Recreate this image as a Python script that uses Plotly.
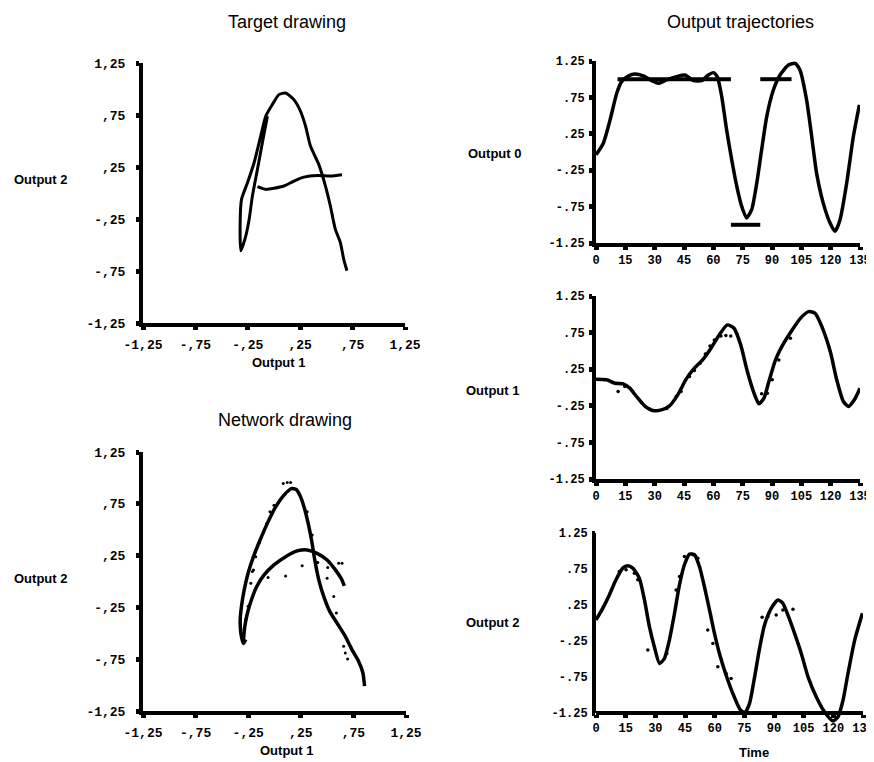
import plotly.graph_objects as go

W, H = 874, 762
OFF = 8  # default page body margin that shifts the plot inside the browser window

# ---------------- tick definitions ----------------
xy_tickvals = [-1.25, -0.75, -0.25, 0.25, 0.75, 1.25]
xy_ticktext_left = ["-1,25", "-,75", "-,25", ",25", ",75", "1,25"]
xy_ticktext_right = ["-1.25", "-.75", "-.25", ".25", ".75", "1.25"]
time_tickvals = [0, 15, 30, 45, 60, 75, 90, 105, 120, 135]
time_ticktext = ["0", "15", "30", "45", "60", "75", "90", "105", "120", "135"]

# ---------------- Target drawing (letter A) ----------------
target_main_x = [-0.063, -0.111, -0.158, -0.206, -0.237, -0.269, -0.316, -0.323, -0.310, -0.253,
                 -0.190, -0.127, -0.079, -0.016, 0.047, 0.111, 0.190, 0.253, 0.301, 0.348,
                 0.427, 0.491, 0.538, 0.585, 0.633, 0.665, 0.696]
target_main_y = [0.738, 0.483, 0.227, -0.029, -0.253, -0.412, -0.556, -0.285, -0.061, 0.099,
                 0.291, 0.547, 0.738, 0.850, 0.946, 0.962, 0.898, 0.786, 0.643, 0.451,
                 0.275, 0.067, -0.125, -0.348, -0.476, -0.636, -0.748]
target_bar_x = [-0.158, -0.079, 0.000, 0.095, 0.190, 0.285, 0.411, 0.538, 0.649]
target_bar_y = [0.061, 0.035, 0.045, 0.067, 0.115, 0.153, 0.169, 0.163, 0.176]

# ---------------- Network drawing ----------------
net_main_x = [-0.273, -0.295, -0.320, -0.326, -0.314, -0.288, -0.251, -0.200, -0.137, -0.068,
              0.011, 0.090, 0.159, 0.207, 0.248, 0.285, 0.320, 0.352, 0.383, 0.421,
              0.468, 0.525, 0.594, 0.673, 0.736, 0.799, 0.840, 0.856]
net_main_y = [-0.561, -0.599, -0.497, -0.369, -0.240, -0.080, 0.080, 0.240, 0.401, 0.561,
              0.721, 0.833, 0.897, 0.888, 0.817, 0.705, 0.561, 0.401, 0.208, 0.016,
              -0.144, -0.288, -0.401, -0.529, -0.657, -0.769, -0.881, -1.010]
net_arc_x = [-0.295, -0.282, -0.257, -0.219, -0.169, -0.099, -0.005, 0.106, 0.216, 0.311,
             0.405, 0.500, 0.579, 0.632, 0.664]
net_arc_y = [-0.561, -0.433, -0.304, -0.176, -0.048, 0.064, 0.160, 0.240, 0.295, 0.305,
             0.272, 0.208, 0.112, 0.032, -0.042]
net_target_x = [-0.273, -0.251, -0.225, -0.200, -0.178, -0.147, -0.106, -0.074, -0.043, -0.005,
                0.033, 0.083, 0.121, 0.153, 0.311, 0.358, 0.405, 0.500, 0.563, 0.588,
                0.657, 0.673, 0.695,
                -0.210, -0.061, 0.106, 0.263, 0.411, 0.506, 0.610, 0.642]
net_target_y = [-0.369, -0.240, -0.016, 0.112, 0.240, 0.369, 0.471, 0.561, 0.673, 0.737,
                0.760, 0.945, 0.955, 0.955, 0.673, 0.449, 0.183, 0.032, -0.144, -0.304,
                -0.625, -0.689, -0.747,
                0.096, 0.038, 0.054, 0.151, 0.183, 0.135, 0.176, 0.176]

# ---------------- Output 0 trajectory ----------------
out0_t = [0, 3.75, 7.2, 10.6, 13.1, 16.5, 19.9, 24.2, 28.5, 31.9, 36.1, 41.2, 45.5, 49.8, 54,
          57.4, 60, 62, 64.3, 66.8, 69.4, 72, 74.5, 77, 79.6, 82.2, 84.7, 87.3, 90.7, 94.1,
          98.4, 101.8, 104.3, 107.7, 110.3, 112.8, 116.2, 119.7, 122.2, 124.8, 128.2, 131.6, 134.7]
out0_v = [-0.039, 0.121, 0.441, 0.807, 0.967, 1.045, 1.072, 1.045, 0.98, 0.944, 0.99, 1.035,
          1.058, 0.98, 0.98, 1.058, 1.09, 1.035, 0.761, 0.304, -0.107, -0.473, -0.747, -0.907,
          -0.793, -0.427, 0.03, 0.487, 0.852, 1.058, 1.195, 1.218, 1.127, 0.715, 0.213, -0.29,
          -0.702, -0.976, -1.09, -0.93, -0.427, 0.213, 0.647]
out0_target_t = [11, 69, None, 69, 84, None, 84, 100]
out0_target_v = [1.0, 1.0, None, -1.0, -1.0, None, 1.0, 1.0]

# ---------------- Output 1 trajectory ----------------
out1_t = [0, 5.4, 9.7, 13.9, 17.3, 20.7, 24.9, 29.1, 33.4, 37.6, 41.8, 46.1, 50.3, 54.5, 58.8,
          63, 67.2, 70.6, 74, 77.4, 80.8, 83.3, 85.9, 88.4, 91.8, 96, 100.3, 104.5, 108.7,
          112.1, 115.5, 119.8, 123.1, 126.5, 129.1, 132.1, 135]
out1_v = [0.114, 0.105, 0.059, 0.05, -0.009, -0.123, -0.25, -0.314, -0.305, -0.25, -0.1, 0.114,
          0.264, 0.377, 0.536, 0.718, 0.855, 0.809, 0.582, 0.218, -0.077, -0.223, -0.145, 0.082,
          0.377, 0.605, 0.786, 0.945, 1.036, 1.014, 0.832, 0.491, 0.105, -0.191, -0.259, -0.168,
          -0.009]
out1_target_t = [11.3, 14.7, 23.2, 27.4, 31.7, 36.2, 41, 43.5, 47.8, 50.3, 53.2, 55.9, 58.3,
                 60.5, 63.9, 66.4, 68.9, 84.7, 87.6, 90.1, 93.5, 99.4]
out1_target_v = [-0.055, 0.014, -0.205, -0.295, -0.314, -0.286, -0.123, -0.055, 0.15, 0.232,
                 0.332, 0.459, 0.568, 0.65, 0.705, 0.709, 0.705, -0.086, -0.077, 0.105, 0.377,
                 0.673]

# ---------------- Output 2 trajectory ----------------
out2_t = [0, 3.4, 6.75, 10.1, 13.5, 16, 18.6, 21.9, 24.5, 27, 29.5, 32.1, 34.6, 37.1, 39.7,
          42.2, 44.7, 47.3, 49.8, 52.3, 54.8, 57.4, 59.9, 62.4, 65.8, 69.2, 72.6, 75.1, 77.6,
          80.2, 82.7, 85.2, 88.6, 92, 94.5, 97, 100.4, 103.8, 107.2, 111.4, 115.6, 119.8, 122.3,
          124.9, 127.4, 130.8, 134.7]
out2_v = [0.042, 0.204, 0.39, 0.6, 0.762, 0.795, 0.762, 0.623, 0.32, -0.051, -0.33, -0.562,
          -0.493, -0.237, 0.135, 0.53, 0.809, 0.957, 0.948, 0.785, 0.507, 0.181, -0.144, -0.423,
          -0.725, -0.98, -1.19, -1.25, -1.12, -0.748, -0.353, -0.028, 0.204, 0.32, 0.274, 0.112,
          -0.144, -0.423, -0.748, -1.027, -1.236, -1.361, -1.306, -1.073, -0.702, -0.237, 0.135]
out2_target_t = [11.8, 15.2, 19.4, 21.1, 26.2, 35.8, 40.5, 42.2, 44.7, 49, 51.5, 56.5, 59.1,
                 61.6, 65.8, 68.3, 84, 86.9, 91.1, 94.5, 99.6]
out2_target_v = [0.716, 0.739, 0.692, 0.6, -0.376, -0.423, 0.46, 0.646, 0.925, 0.948, 0.9,
                 -0.098, -0.283, -0.609, -0.702, -0.771, 0.079, 0.088, 0.112, 0.181, 0.19]

# ---------------- figure ----------------
def px(x):
    return (x - OFF) / W


def py(y):
    return 1 - (y - OFF) / H


LINE_W = 3.5
fig = go.Figure()


def line(x, y, xa, ya, width=LINE_W):
    fig.add_trace(go.Scatter(x=x, y=y, mode="lines", xaxis=xa, yaxis=ya,
                             line=dict(color="black", width=width, shape="spline", smoothing=0.6),
                             connectgaps=False, hoverinfo="skip", showlegend=False))


def dots(x, y, xa, ya, size=3.5):
    fig.add_trace(go.Scatter(x=x, y=y, mode="markers", xaxis=xa, yaxis=ya,
                             marker=dict(color="black", size=size),
                             hoverinfo="skip", showlegend=False))


# Target drawing
line(target_main_x, target_main_y, "x", "y", 3)
line(target_bar_x, target_bar_y, "x", "y", 3)
# Network drawing
line(net_main_x, net_main_y, "x2", "y2")
line(net_arc_x, net_arc_y, "x2", "y2")
dots(net_target_x, net_target_y, "x2", "y2", 3)
# Output 0
line(out0_t, out0_v, "x3", "y3")
fig.add_trace(go.Scatter(x=out0_target_t, y=out0_target_v, mode="lines", xaxis="x3", yaxis="y3",
                         line=dict(color="black", width=4), connectgaps=False,
                         hoverinfo="skip", showlegend=False))
# Output 1
line(out1_t, out1_v, "x4", "y4")
dots(out1_target_t, out1_target_v, "x4", "y4", 3.5)
# Output 2
line(out2_t, out2_v, "x5", "y5")
dots(out2_target_t, out2_target_v, "x5", "y5", 3.5)

TICKFONT = dict(family="Liberation Mono", size=13, color="black", weight="bold")
TICKFONT_R = dict(family="Liberation Mono", size=12, color="black", weight="bold")


def axis(domain, rng, tickvals, ticktext, anchor, font, standoff, showline=True):
    return dict(domain=domain, range=rng, tickvals=tickvals, ticktext=ticktext, anchor=anchor,
                showline=showline, linewidth=4, linecolor="black", mirror=False,
                ticks="outside", ticklen=3, tickwidth=5, tickcolor="black",
                showgrid=False, zeroline=False, tickfont=font, tickangle=0,
                ticklabelstandoff=standoff, fixedrange=True, automargin=False)


# pixel extents of each panel (in the browser window)
TL = dict(x0=143, x1=405, y0=63, y1=323)
BL = dict(x0=143, x1=406, y0=452, y1=711)
TR = dict(x0=596, x1=860, y0=61, y1=243)
MR = dict(x0=596, x1=860, y0=296, y1=479)
BR = dict(x0=596, x1=863, y0=533, y1=713)

xy_range = [-1.25, 1.25]
t_range = [0, 135]
br_low = -1.45
br_bottom_px = BR["y1"] + (-1.25 - br_low) * (BR["y1"] - BR["y0"]) / 2.5

layout = dict(
    width=W, height=H, margin=dict(l=0, r=0, t=0, b=0, autoexpand=False),
    paper_bgcolor="white", plot_bgcolor="white", showlegend=False,
    xaxis=axis([px(TL["x0"]), px(TL["x1"])], xy_range, xy_tickvals, xy_ticktext_left, "y", TICKFONT, 3),
    yaxis=axis([py(TL["y1"]), py(TL["y0"])], xy_range, xy_tickvals, xy_ticktext_left, "x", TICKFONT, 8),
    xaxis2=axis([px(BL["x0"]), px(BL["x1"])], xy_range, xy_tickvals, xy_ticktext_left, "y2", TICKFONT, 3),
    yaxis2=axis([py(BL["y1"]), py(BL["y0"])], xy_range, xy_tickvals, xy_ticktext_left, "x2", TICKFONT, 8),
    xaxis3=axis([px(TR["x0"]), px(TR["x1"])], t_range, time_tickvals, time_ticktext, "y3", TICKFONT_R, 0),
    yaxis3=axis([py(TR["y1"]), py(TR["y0"])], xy_range, xy_tickvals, xy_ticktext_right, "x3", TICKFONT_R, 2),
    xaxis4=axis([px(MR["x0"]), px(MR["x1"])], t_range, time_tickvals, time_ticktext, "y4", TICKFONT_R, 0),
    yaxis4=axis([py(MR["y1"]), py(MR["y0"])], xy_range, xy_tickvals, xy_ticktext_right, "x4", TICKFONT_R, 2),
    xaxis5=axis([px(BR["x0"]), px(BR["x1"])], t_range, time_tickvals, time_ticktext, "free", TICKFONT_R, 0),
    yaxis5=axis([py(br_bottom_px), py(BR["y0"])], [br_low, 1.25], xy_tickvals, xy_ticktext_right, "x5",
                TICKFONT_R, 2, showline=False),
)
layout["xaxis5"]["position"] = py(BR["y1"])
fig.update_layout(**layout)

# y-axis line of the bottom-right panel (stops at the time axis)
fig.add_shape(type="line", xref="paper", yref="y5", x0=px(BR["x0"]) - 2 / W, x1=px(BR["x0"]) - 2 / W,
              y0=-1.25, y1=1.25, line=dict(color="black", width=4), layer="above")

TITLE_FONT = dict(family="Liberation Sans", size=18, color="black")
LABEL_FONT = dict(family="Liberation Sans", size=13, color="black", weight="bold")


def text(s, x, y, font):
    fig.add_annotation(text=s, x=px(x), y=py(y), xref="paper", yref="paper",
                       xanchor="center", yanchor="middle", showarrow=False, font=font)


text("Target drawing", 287, 22, TITLE_FONT)
text("Output trajectories", 740, 22, TITLE_FONT)
text("Network drawing", 285, 420, TITLE_FONT)
text("Output 2", 40, 180, LABEL_FONT)
text("Output 1", 278, 362, LABEL_FONT)
text("Output 2", 40, 578, LABEL_FONT)
text("Output 1", 286, 750, LABEL_FONT)
text("Output 0", 494, 153, LABEL_FONT)
text("Output 1", 492, 390, LABEL_FONT)
text("Output 2", 492, 622, LABEL_FONT)
text("Time", 754, 752, LABEL_FONT)

fig.write_html("out.html")
